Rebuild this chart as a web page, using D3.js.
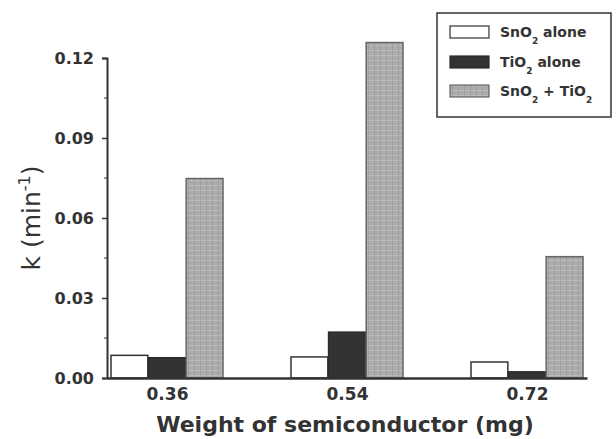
<!DOCTYPE html>
<html>
<head>
<meta charset="utf-8">
<script src="https://cdn.jsdelivr.net/npm/d3@7"></script>
<style>
  html, body { margin: 0; padding: 0; background: #fff; }
  svg { display: block; }
  text { font-family: "DejaVu Sans", Arial, sans-serif; fill: #333; }
</style>
</head>
<body>
<svg id="chart" width="616" height="439"></svg>
<script>
// Rate constant k versus weight of semiconductor
const weights = [0.36, 0.54, 0.72];
const weightLabels = ["0.36", "0.54", "0.72"];
const seriesNames = ["SnO2 alone", "TiO2 alone", "SnO2 + TiO2"];
const sno2Alone = [0.0085, 0.0079, 0.0060];
const tio2Alone = [0.0076, 0.0172, 0.0023];
const combined  = [0.0748, 0.1258, 0.0455];
const yTicks = [0.00, 0.03, 0.06, 0.09, 0.12];

const svg = d3.select("#chart");

const plot = { left: 107, right: 587, top: 58, bottom: 378 };

const x = d3.scaleLinear().domain([0.30, 0.78]).range([plot.left, plot.right]);
const y = d3.scaleLinear().domain([0, 0.12]).range([plot.bottom, plot.top]);

const barW = x(0.336) - x(0.30);
const inner = d3.scaleBand()
  .domain(d3.range(seriesNames.length))
  .range([-1.5 * barW - 2, 1.5 * barW + 2])
  .paddingInner(0.02);

// Textured fill for the combined-oxide bars
const defs = svg.append("defs");
const pat = defs.append("pattern")
  .attr("id", "mix")
  .attr("patternUnits", "userSpaceOnUse")
  .attr("width", 6).attr("height", 5);
pat.append("rect").attr("width", 6).attr("height", 5).attr("fill", "#ababab");
pat.append("line").attr("x1", 0).attr("x2", 6).attr("y1", 0.5).attr("y2", 0.5)
  .attr("stroke", "#bdbdbd").attr("stroke-width", 1);
pat.append("line").attr("x1", 2.5).attr("x2", 2.5).attr("y1", 0).attr("y2", 5)
  .attr("stroke", "#a0a0a0").attr("stroke-width", 1);

const fills = ["#ffffff", "#333333", "url(#mix)"];
const strokes = ["#333333", "#2a2a2a", "#666666"];
const series = [sno2Alone, tio2Alone, combined];

const bars = [];
series.forEach((vals, si) => {
  vals.forEach((v, gi) => bars.push({ si, gi, v }));
});

svg.append("g").selectAll("rect")
  .data(bars)
  .join("rect")
  .attr("x", d => x(weights[d.gi]) + inner(d.si))
  .attr("y", d => y(d.v))
  .attr("width", inner.bandwidth())
  .attr("height", d => y(0) - y(d.v))
  .attr("fill", d => fills[d.si])
  .attr("stroke", d => strokes[d.si])
  .attr("stroke-width", 1.5);

// Axes
const yAxis = d3.axisLeft(y).tickValues(yTicks).tickFormat(d3.format(".2f"))
  .tickSize(5).tickPadding(8);
const gy = svg.append("g").attr("transform", `translate(${plot.left},0)`).call(yAxis);
gy.select(".domain").attr("stroke", "#333").attr("stroke-width", 2);
gy.selectAll(".tick line").attr("stroke", "#333").attr("stroke-width", 1.5);
gy.selectAll(".tick text").style("font-size", "16px").style("font-weight", "bold")
  .attr("fill", "#555").style("font-family", "DejaVu Sans, sans-serif");

// minor ticks on y
svg.append("g").selectAll("line")
  .data(d3.range(0.015, 0.12, 0.03))
  .join("line")
  .attr("x1", plot.left - 3).attr("x2", plot.left)
  .attr("y1", d => y(d)).attr("y2", d => y(d))
  .attr("stroke", "#333").attr("stroke-width", 1);

const xAxis = d3.axisBottom(x).tickValues(weights)
  .tickFormat((d, i) => weightLabels[i]).tickSize(0).tickPadding(10);
const gx = svg.append("g").attr("transform", `translate(0,${plot.bottom})`).call(xAxis);
gx.select(".domain").attr("stroke", "#333").attr("stroke-width", 2.5);
gx.selectAll(".tick text").style("font-size", "17px").style("font-weight", "bold")
  .attr("fill", "#444").style("font-family", "DejaVu Sans, sans-serif");

// Axis titles
svg.append("text")
  .attr("x", 345).attr("y", 432)
  .attr("text-anchor", "middle")
  .style("font-size", "22px").style("font-weight", "bold")
  .attr("fill", "#333")
  .text("Weight of semiconductor (mg)");

const yt = svg.append("text")
  .attr("transform", "translate(40,218) rotate(-90)")
  .attr("text-anchor", "middle")
  .style("font-size", "25px")
  .attr("fill", "#444");
yt.append("tspan").text("k (min");
yt.append("tspan").attr("dy", -10).style("font-size", "16px").text("-1");
yt.append("tspan").attr("dy", 10).text(")");

// Legend
const lg = svg.append("g");
lg.append("rect")
  .attr("x", 437).attr("y", 13).attr("width", 174).attr("height", 104)
  .attr("fill", "#fff").attr("stroke", "#333").attr("stroke-width", 1.5);

const rowY = [32, 62, 91];
const legendParts = [
  [["SnO", 0], ["2", 1], [" alone", 0]],
  [["TiO", 0], ["2", 1], [" alone", 0]],
  [["SnO", 0], ["2", 1], [" + TiO", 0], ["2", 1]]
];
seriesNames.forEach((name, i) => {
  lg.append("rect")
    .attr("x", 450).attr("y", rowY[i] - 6).attr("width", 39).attr("height", 12)
    .attr("fill", fills[i]).attr("stroke", strokes[i]).attr("stroke-width", 1.2);
  const t = lg.append("text")
    .attr("x", 500).attr("y", rowY[i] + 5)
    .style("font-size", "14px").style("font-weight", "bold")
    .attr("fill", "#444");
  let prevSub = 0;
  legendParts[i].forEach(([s, sub]) => {
    const ts = t.append("tspan").text(s);
    const dy = (sub - prevSub) * 7;
    if (dy) ts.attr("dy", dy);
    if (sub) ts.style("font-size", "9px");
    prevSub = sub;
  });
});
</script>
</body>
</html>
